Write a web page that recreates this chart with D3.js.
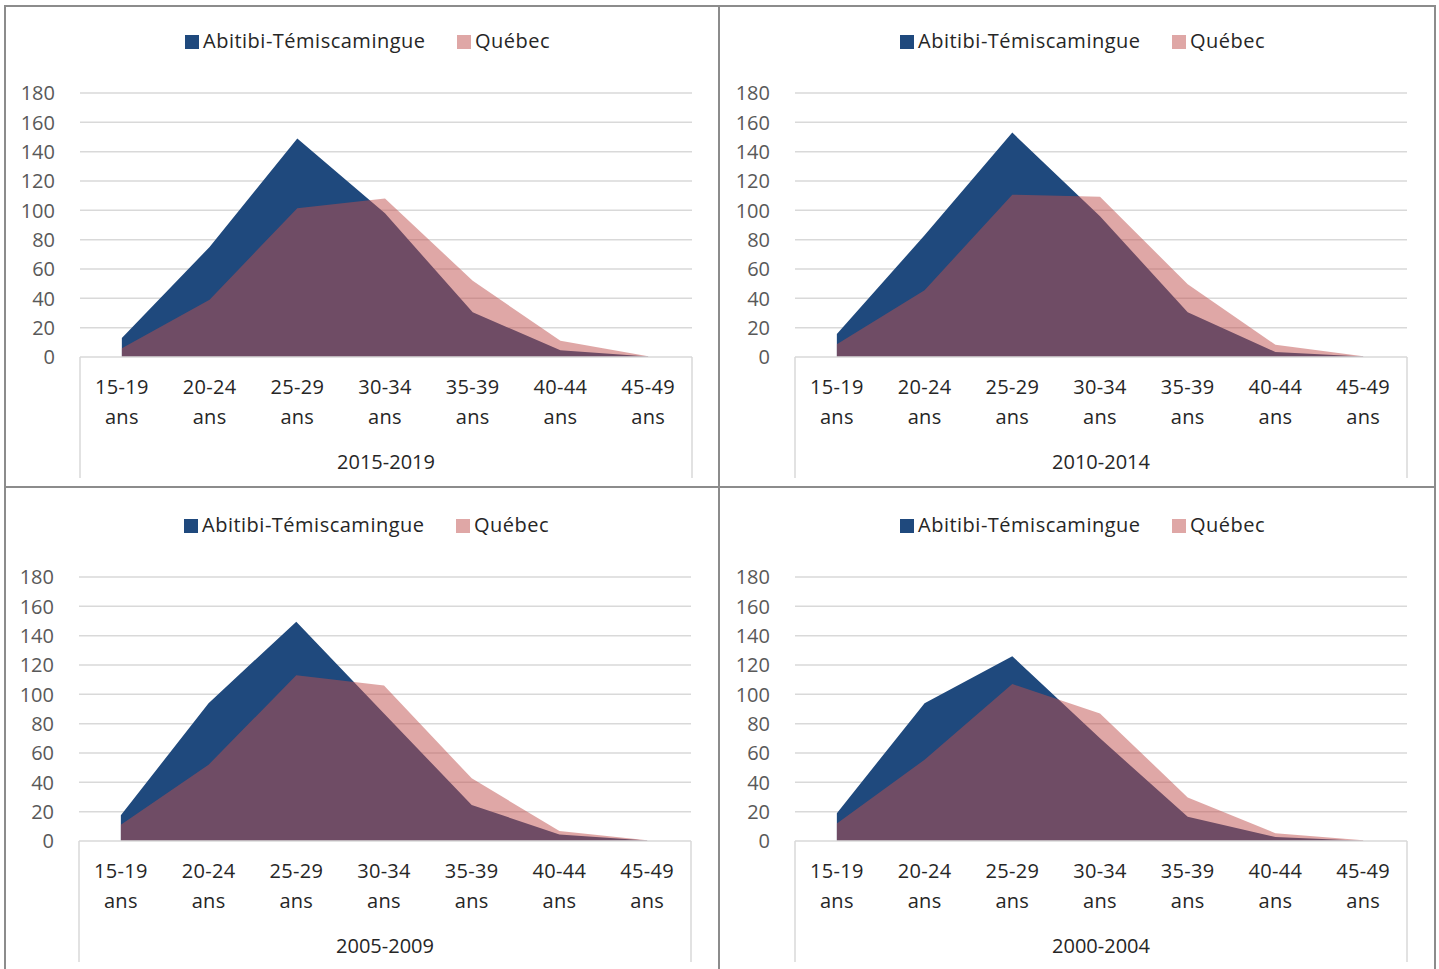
<!DOCTYPE html>
<html lang="fr">
<head>
<meta charset="utf-8" />
<title>Abitibi-Témiscamingue / Québec</title>
<script src="https://d3js.org/d3.v7.min.js"></script>
<style>
body { margin: 0; background: #fff; }
svg { display: block; font-family: 'Open Sans', sans-serif; }
.grid line { stroke: #d9d9d9; stroke-width: 1.5; }
</style>
</head>
<body>
<svg id="chart" width="1439" height="969"></svg>
<script>
// categories and series
var categories = ['15-19 ans', '20-24 ans', '25-29 ans', '30-34 ans', '35-39 ans', '40-44 ans', '45-49 ans'];
var periods = ['2015-2019', '2010-2014', '2005-2009', '2000-2004'];
var seriesNames = ['Abitibi-Témiscamingue', 'Québec'];
var abitibi = [
  [13, 75, 149, 98, 30.5, 4.6, 0.3],
  [15.6, 83, 153, 96, 30.5, 3.4, 0.3],
  [17.5, 94, 149.5, 87, 24.5, 4.5, 0.3],
  [19, 94, 126, 70, 16.5, 2.7, 0.2]
];
var quebec = [
  [6, 39, 101.5, 108, 52, 11, 0.5],
  [8.7, 45.5, 110.7, 109.3, 49.6, 8.3, 0.5],
  [11, 52, 113, 106, 42.7, 6.8, 0.5],
  [12, 55.4, 107, 87, 29.7, 5.3, 0.5]
];
var yTicks = [0, 20, 40, 60, 80, 100, 120, 140, 160, 180];

var colors = ['#1f497d', '#c0504d'];
var opac = [1, 0.5];

var svg = d3.select('#chart');

// panel origins (2 x 2)
var origins = [[0, 0], [715, 0], [-1, 484], [715, 484]];

var x = d3.scalePoint().domain(categories).range([78, 692]).padding(0.5);
var y = d3.scaleLinear().domain([0, 180]).range([357, 93]);

periods.forEach(function (period, p) {
  var g = svg.append('g')
    .attr('transform', 'translate(' + origins[p][0] + ',' + origins[p][1] + ')');

  // horizontal gridlines
  g.append('g').attr('class', 'grid')
    .selectAll('line')
    .data(yTicks.filter(function (t) { return t > 0; }))
    .enter().append('line')
    .attr('x1', 80).attr('x2', 692)
    .attr('y1', function (d) { return y(d); })
    .attr('y2', function (d) { return y(d); });

  // y labels
  g.append('g').selectAll('text')
    .data(yTicks)
    .enter().append('text')
    .attr('x', 55)
    .attr('y', function (d) { return y(d); })
    .attr('dy', '0.36em')
    .attr('text-anchor', 'end')
    .attr('fill', '#595959')
    .style('font-size', '20px')
    .text(function (d) { return d; });

  // areas
  var area = d3.area()
    .x(function (d, i) { return x(categories[i]); })
    .y0(y(0))
    .y1(function (d) { return y(d); });

  [abitibi[p], quebec[p]].forEach(function (vals, s) {
    g.append('path')
      .datum(vals)
      .attr('d', area)
      .attr('fill', colors[s])
      .attr('fill-opacity', opac[s]);
  });

  // category axis box
  var axis = g.append('g').attr('stroke', '#d9d9d9').attr('stroke-width', 1.5);
  axis.append('line').attr('x1', 80).attr('x2', 692).attr('y1', y(0)).attr('y2', y(0));
  axis.append('line').attr('x1', 80).attr('x2', 80).attr('y1', y(0)).attr('y2', 478);
  axis.append('line').attr('x1', 692).attr('x2', 692).attr('y1', y(0)).attr('y2', 478);

  // category labels, two lines each
  var lab = g.append('g').selectAll('text')
    .data(categories)
    .enter().append('text')
    .attr('text-anchor', 'middle')
    .attr('fill', '#262626')
    .style('font-size', '20px')
    .style('letter-spacing', '0.3px');
  lab.append('tspan')
    .attr('x', function (d) { return x(d); })
    .attr('y', 394)
    .text(function (d) { return d.split(' ')[0]; });
  lab.append('tspan')
    .attr('x', function (d) { return x(d); })
    .attr('y', 424)
    .text(function (d) { return d.split(' ')[1]; });

  g.append('text')
    .attr('x', (80 + 692) / 2)
    .attr('y', 469)
    .attr('text-anchor', 'middle')
    .attr('fill', '#262626')
    .style('font-size', '20px')
    .text(period);

  // legend
  var legX = [185, 457];
  seriesNames.forEach(function (name, s) {
    g.append('rect')
      .attr('x', legX[s]).attr('y', 35)
      .attr('width', 14).attr('height', 14)
      .attr('fill', colors[s])
      .attr('fill-opacity', opac[s]);
    g.append('text')
      .attr('x', legX[s] + 18)
      .attr('y', 48)
      .attr('fill', '#262626')
      .style('font-size', '20px')
      .style('letter-spacing', '0.5px')
      .text(name);
  });
});

// outer frame and dividers
var frame = svg.append('g').attr('stroke', '#8c8c8c').attr('stroke-width', 2);
frame.append('line').attr('x1', 4).attr('x2', 1436).attr('y1', 6).attr('y2', 6);
frame.append('line').attr('x1', 5).attr('x2', 5).attr('y1', 5).attr('y2', 969);
frame.append('line').attr('x1', 1435).attr('x2', 1435).attr('y1', 5).attr('y2', 969);
frame.append('line').attr('x1', 719).attr('x2', 719).attr('y1', 5).attr('y2', 969);
frame.append('line').attr('x1', 4).attr('x2', 1436).attr('y1', 487).attr('y2', 487);
</script>
</body>
</html>
